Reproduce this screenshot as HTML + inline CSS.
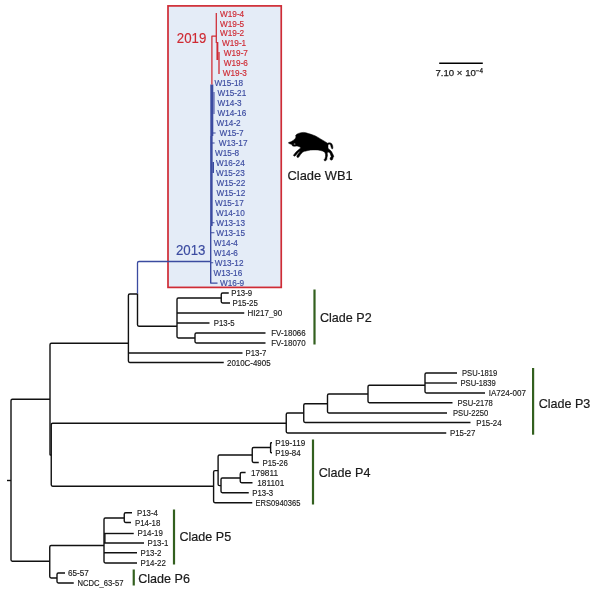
<!DOCTYPE html>
<html lang="en"><head><meta charset="utf-8"><title>Phylogenetic tree</title>
<style>
html,body{margin:0;padding:0;background:#fff;}
body{width:600px;height:602px;overflow:hidden;}
svg{display:block;}
svg text{font-family:"Liberation Sans",sans-serif;}
</style></head><body>
<svg width="600" height="602" viewBox="0 0 600 602">
<rect width="600" height="602" fill="#fff"/>
<rect x="168" y="5.9" width="113.25" height="281.5" fill="#e4ecf7" stroke="#cf2b35" stroke-width="1.7"/>
<g fill="none" stroke="#111" stroke-width="1.4" stroke-linejoin="round">
<path d="M7,480.5 L11,480.5"/>
<path d="M50,399.25 L12.40,399.25 Q11,399.25 11.00,400.65 L11.00,559.85 Q11,561.25 12.40,561.25 L49.75,561.25"/>
<path d="M128.4,343.25 L51.40,343.25 Q50,343.25 50.00,344.65 L50.00,454.38 Q50,455 50.62,455.00 L51.25,455"/>
<path d="M286.25,423.2 L52.65,423.20 Q51.25,423.2 51.25,424.60 L51.25,484.85 Q51.25,486.25 52.65,486.25 L213.6,486.25"/>
<path d="M137.5,294 L129.80,294.00 Q128.4,294 128.40,295.40 L128.40,361.10 Q128.4,362.5 129.80,362.50 L223.75,362.5"/>
<path d="M128.4,353 L242.5,353"/>
<path d="M137.5,293.5 L137.50,324.85 Q137.5,326.25 138.90,326.25 L177,326.25"/>
<path d="M221.25,298 L178.40,298.00 Q177,298 177.00,299.40 L177.00,336.60 Q177,338 178.40,338.00 L195,338"/>
<path d="M177,313 L244.25,313"/>
<path d="M177,323 L209.5,323"/>
<path d="M228.75,293 L222.65,293.00 Q221.25,293 221.25,294.40 L221.25,301.60 Q221.25,303 222.65,303.00 L230,303"/>
<path d="M265.5,333 L196.40,333.00 Q195,333 195.00,334.40 L195.00,341.60 Q195,343 196.40,343.00 L265.5,343"/>
<path d="M303.75,413 L287.65,413.00 Q286.25,413 286.25,414.40 L286.25,431.60 Q286.25,433 287.65,433.00 L446.25,433"/>
<path d="M327.5,403.75 L305.15,403.75 Q303.75,403.75 303.75,405.15 L303.75,421.10 Q303.75,422.5 305.15,422.50 L470.5,422.5"/>
<path d="M368,394 L328.90,394.00 Q327.5,394 327.50,395.40 L327.50,411.60 Q327.5,413 328.90,413.00 L447,413"/>
<path d="M425,385.25 L369.40,385.25 Q368,385.25 368.00,386.65 L368.00,401.35 Q368,402.75 369.40,402.75 L452.5,402.75"/>
<path d="M457,373 L426.40,373.00 Q425,373 425.00,374.40 L425.00,391.60 Q425,393 426.40,393.00 L485,393"/>
<path d="M425,383 L457,383"/>
<path d="M218.1,470.6 L215.00,470.60 Q213.6,470.6 213.60,472.00 L213.60,501.35 Q213.6,502.75 215.00,502.75 L252.25,502.75"/>
<path d="M252.25,455 L219.50,455.00 Q218.1,455 218.10,456.40 L218.10,484.20 Q218.1,485.6 219.50,485.60 L221,485.6"/>
<path d="M240.25,478 L222.40,478.00 Q221,478 221.00,479.40 L221.00,491.35 Q221,492.75 222.40,492.75 L248.75,492.75"/>
<path d="M245.6,472.5 L241.65,472.50 Q240.25,472.5 240.25,473.90 L240.25,481.35 Q240.25,482.75 241.65,482.75 L252.5,482.75"/>
<path d="M270.6,447.5 L253.65,447.50 Q252.25,447.5 252.25,448.90 L252.25,461.10 Q252.25,462.5 253.65,462.50 L258.75,462.5"/>
<path d="M272,442.75 L271.30,442.75 Q270.6,442.75 270.60,443.45 L270.60,452.05 Q270.6,452.75 271.30,452.75 L272,452.75"/>
<path d="M104,545.5 L51.15,545.50 Q49.75,545.5 49.75,546.90 L49.75,576.60 Q49.75,578 51.15,578.00 L57,578"/>
<path d="M65,573 L58.40,573.00 Q57,573 57.00,574.40 L57.00,581.60 Q57,583 58.40,583.00 L73.75,583"/>
<path d="M124.25,518 L105.40,518.00 Q104,518 104.00,519.40 L104.00,561.60 Q104,563 105.40,563.00 L137,563"/>
<path d="M104,533.5 L133.75,533.5"/>
<path d="M104,543 L144,543"/>
<path d="M104,552.75 L137,552.75"/>
<path d="M104.9,534 L104.9,543"/>
<path d="M132,512.75 L125.65,512.75 Q124.25,512.75 124.25,514.15 L124.25,521.10 Q124.25,522.5 125.65,522.50 L131,522.5"/>
</g>
<g fill="none" stroke="#3b4ba0" stroke-linejoin="round">
<path d="M210.6,261.5 H139 Q137.5,261.5 137.5,263 V293.6" stroke-width="1.3"/>
<path d="M211.8,84.5 V136" stroke-width="3"/>
<path d="M213.9,92 V114" stroke-width="1.6" stroke="#6c76b8"/>
<path d="M211.4,136 V226" stroke-width="2.5"/>
<path d="M213.2,162 V173" stroke-width="1.6"/>
<path d="M210.7,226 V283.1 H217.5" stroke-width="1.4"/>
<path d="M212,133 H215.6 M212,143 H214.6 M211,222.75 H214.4 M211,232.75 H214.4 M211,262.75 H213.2" stroke-width="1.2"/>
</g>
<g fill="none" stroke="#cf2a33" stroke-linejoin="round">
<path d="M211.9,84.6 V36 H216.25" stroke-width="1.25"/>
<path d="M216.3,13 V43" stroke-width="1.25"/>
<path d="M217.4,42 V60" stroke-width="1.9"/>
<path d="M219,52 V74" stroke-width="1.3"/>
</g>
<g stroke="#33601f" stroke-width="2.2">
<path d="M314.5,289.5 V344.5"/>
<path d="M533.1,368 V434.7"/>
<path d="M313,439.5 V504.5"/>
<path d="M174,509.5 V564.5"/>
<path d="M133.75,569.5 V585.5"/>
</g>
<g>
<text x="231.25" y="296.00" font-size="8.4" textLength="20.86" lengthAdjust="spacingAndGlyphs" fill="#1a1a1a" stroke="#1a1a1a" stroke-width="0.15">P13-9</text>
<text x="232.50" y="306.00" font-size="8.4" textLength="25.37" lengthAdjust="spacingAndGlyphs" fill="#1a1a1a" stroke="#1a1a1a" stroke-width="0.15">P15-25</text>
<text x="247.50" y="316.00" font-size="8.4" textLength="34.78" lengthAdjust="spacingAndGlyphs" fill="#1a1a1a" stroke="#1a1a1a" stroke-width="0.15">HI217_90</text>
<text x="213.75" y="326.00" font-size="8.4" textLength="20.86" lengthAdjust="spacingAndGlyphs" fill="#1a1a1a" stroke="#1a1a1a" stroke-width="0.15">P13-5</text>
<text x="271.25" y="336.00" font-size="8.4" textLength="34.42" lengthAdjust="spacingAndGlyphs" fill="#1a1a1a" stroke="#1a1a1a" stroke-width="0.15">FV-18066</text>
<text x="271.25" y="346.00" font-size="8.4" textLength="34.42" lengthAdjust="spacingAndGlyphs" fill="#1a1a1a" stroke="#1a1a1a" stroke-width="0.15">FV-18070</text>
<text x="245.50" y="356.00" font-size="8.4" textLength="20.86" lengthAdjust="spacingAndGlyphs" fill="#1a1a1a" stroke="#1a1a1a" stroke-width="0.15">P13-7</text>
<text x="227.00" y="365.50" font-size="8.4" textLength="43.57" lengthAdjust="spacingAndGlyphs" fill="#1a1a1a" stroke="#1a1a1a" stroke-width="0.15">2010C-4905</text>
<text x="462.00" y="376.00" font-size="8.4" textLength="35.17" lengthAdjust="spacingAndGlyphs" fill="#1a1a1a" stroke="#1a1a1a" stroke-width="0.15">PSU-1819</text>
<text x="460.50" y="386.00" font-size="8.4" textLength="35.17" lengthAdjust="spacingAndGlyphs" fill="#1a1a1a" stroke="#1a1a1a" stroke-width="0.15">PSU-1839</text>
<text x="488.75" y="396.00" font-size="8.4" textLength="37.19" lengthAdjust="spacingAndGlyphs" fill="#1a1a1a" stroke="#1a1a1a" stroke-width="0.15">IA724-007</text>
<text x="457.50" y="406.00" font-size="8.4" textLength="35.17" lengthAdjust="spacingAndGlyphs" fill="#1a1a1a" stroke="#1a1a1a" stroke-width="0.15">PSU-2178</text>
<text x="453.00" y="416.00" font-size="8.4" textLength="35.17" lengthAdjust="spacingAndGlyphs" fill="#1a1a1a" stroke="#1a1a1a" stroke-width="0.15">PSU-2250</text>
<text x="476.25" y="425.70" font-size="8.4" textLength="25.37" lengthAdjust="spacingAndGlyphs" fill="#1a1a1a" stroke="#1a1a1a" stroke-width="0.15">P15-24</text>
<text x="450.00" y="436.00" font-size="8.4" textLength="25.37" lengthAdjust="spacingAndGlyphs" fill="#1a1a1a" stroke="#1a1a1a" stroke-width="0.15">P15-27</text>
<text x="275.25" y="446.00" font-size="8.4" textLength="29.89" lengthAdjust="spacingAndGlyphs" fill="#1a1a1a" stroke="#1a1a1a" stroke-width="0.15">P19-119</text>
<text x="275.25" y="456.00" font-size="8.4" textLength="25.37" lengthAdjust="spacingAndGlyphs" fill="#1a1a1a" stroke="#1a1a1a" stroke-width="0.15">P19-84</text>
<text x="262.50" y="465.60" font-size="8.4" textLength="25.37" lengthAdjust="spacingAndGlyphs" fill="#1a1a1a" stroke="#1a1a1a" stroke-width="0.15">P15-26</text>
<text x="251.00" y="475.70" font-size="8.4" textLength="27.07" lengthAdjust="spacingAndGlyphs" fill="#1a1a1a" stroke="#1a1a1a" stroke-width="0.15">179811</text>
<text x="257.25" y="485.70" font-size="8.4" textLength="27.07" lengthAdjust="spacingAndGlyphs" fill="#1a1a1a" stroke="#1a1a1a" stroke-width="0.15">181101</text>
<text x="252.25" y="495.70" font-size="8.4" textLength="20.86" lengthAdjust="spacingAndGlyphs" fill="#1a1a1a" stroke="#1a1a1a" stroke-width="0.15">P13-3</text>
<text x="255.50" y="505.70" font-size="8.4" textLength="44.85" lengthAdjust="spacingAndGlyphs" fill="#1a1a1a" stroke="#1a1a1a" stroke-width="0.15">ERS0940365</text>
<text x="137.00" y="515.60" font-size="8.4" textLength="20.86" lengthAdjust="spacingAndGlyphs" fill="#1a1a1a" stroke="#1a1a1a" stroke-width="0.15">P13-4</text>
<text x="135.00" y="525.60" font-size="8.4" textLength="25.37" lengthAdjust="spacingAndGlyphs" fill="#1a1a1a" stroke="#1a1a1a" stroke-width="0.15">P14-18</text>
<text x="137.50" y="535.80" font-size="8.4" textLength="25.37" lengthAdjust="spacingAndGlyphs" fill="#1a1a1a" stroke="#1a1a1a" stroke-width="0.15">P14-19</text>
<text x="147.50" y="546.00" font-size="8.4" textLength="20.86" lengthAdjust="spacingAndGlyphs" fill="#1a1a1a" stroke="#1a1a1a" stroke-width="0.15">P13-1</text>
<text x="140.50" y="556.00" font-size="8.4" textLength="20.86" lengthAdjust="spacingAndGlyphs" fill="#1a1a1a" stroke="#1a1a1a" stroke-width="0.15">P13-2</text>
<text x="140.50" y="566.00" font-size="8.4" textLength="25.37" lengthAdjust="spacingAndGlyphs" fill="#1a1a1a" stroke="#1a1a1a" stroke-width="0.15">P14-22</text>
<text x="68.00" y="576.00" font-size="8.4" textLength="20.77" lengthAdjust="spacingAndGlyphs" fill="#1a1a1a" stroke="#1a1a1a" stroke-width="0.15">65-57</text>
<text x="77.50" y="586.00" font-size="8.4" textLength="45.92" lengthAdjust="spacingAndGlyphs" fill="#1a1a1a" stroke="#1a1a1a" stroke-width="0.15">NCDC_63-57</text>
<text x="220.00" y="16.50" font-size="8.4" textLength="24.18" lengthAdjust="spacingAndGlyphs" fill="#cf2a33" stroke="#cf2a33" stroke-width="0.15">W19-4</text>
<text x="220.00" y="26.50" font-size="8.4" textLength="24.18" lengthAdjust="spacingAndGlyphs" fill="#cf2a33" stroke="#cf2a33" stroke-width="0.15">W19-5</text>
<text x="220.00" y="36.20" font-size="8.4" textLength="24.18" lengthAdjust="spacingAndGlyphs" fill="#cf2a33" stroke="#cf2a33" stroke-width="0.15">W19-2</text>
<text x="222.00" y="46.00" font-size="8.4" textLength="24.18" lengthAdjust="spacingAndGlyphs" fill="#cf2a33" stroke="#cf2a33" stroke-width="0.15">W19-1</text>
<text x="223.75" y="56.00" font-size="8.4" textLength="24.18" lengthAdjust="spacingAndGlyphs" fill="#cf2a33" stroke="#cf2a33" stroke-width="0.15">W19-7</text>
<text x="223.75" y="65.90" font-size="8.4" textLength="24.18" lengthAdjust="spacingAndGlyphs" fill="#cf2a33" stroke="#cf2a33" stroke-width="0.15">W19-6</text>
<text x="222.75" y="76.00" font-size="8.4" textLength="24.18" lengthAdjust="spacingAndGlyphs" fill="#cf2a33" stroke="#cf2a33" stroke-width="0.15">W19-3</text>
<text x="214.40" y="86.10" font-size="8.4" textLength="28.69" lengthAdjust="spacingAndGlyphs" fill="#3b4ba0" stroke="#3b4ba0" stroke-width="0.15">W15-18</text>
<text x="217.50" y="96.10" font-size="8.4" textLength="28.69" lengthAdjust="spacingAndGlyphs" fill="#3b4ba0" stroke="#3b4ba0" stroke-width="0.15">W15-21</text>
<text x="217.50" y="106.10" font-size="8.4" textLength="24.18" lengthAdjust="spacingAndGlyphs" fill="#3b4ba0" stroke="#3b4ba0" stroke-width="0.15">W14-3</text>
<text x="217.50" y="116.10" font-size="8.4" textLength="28.69" lengthAdjust="spacingAndGlyphs" fill="#3b4ba0" stroke="#3b4ba0" stroke-width="0.15">W14-16</text>
<text x="216.50" y="126.10" font-size="8.4" textLength="24.18" lengthAdjust="spacingAndGlyphs" fill="#3b4ba0" stroke="#3b4ba0" stroke-width="0.15">W14-2</text>
<text x="219.40" y="135.90" font-size="8.4" textLength="24.18" lengthAdjust="spacingAndGlyphs" fill="#3b4ba0" stroke="#3b4ba0" stroke-width="0.15">W15-7</text>
<text x="218.75" y="145.70" font-size="8.4" textLength="28.69" lengthAdjust="spacingAndGlyphs" fill="#3b4ba0" stroke="#3b4ba0" stroke-width="0.15">W13-17</text>
<text x="215.00" y="155.60" font-size="8.4" textLength="24.18" lengthAdjust="spacingAndGlyphs" fill="#3b4ba0" stroke="#3b4ba0" stroke-width="0.15">W15-8</text>
<text x="216.00" y="166.00" font-size="8.4" textLength="28.69" lengthAdjust="spacingAndGlyphs" fill="#3b4ba0" stroke="#3b4ba0" stroke-width="0.15">W16-24</text>
<text x="216.00" y="176.00" font-size="8.4" textLength="28.69" lengthAdjust="spacingAndGlyphs" fill="#3b4ba0" stroke="#3b4ba0" stroke-width="0.15">W15-23</text>
<text x="216.50" y="186.00" font-size="8.4" textLength="28.69" lengthAdjust="spacingAndGlyphs" fill="#3b4ba0" stroke="#3b4ba0" stroke-width="0.15">W15-22</text>
<text x="216.50" y="195.90" font-size="8.4" textLength="28.69" lengthAdjust="spacingAndGlyphs" fill="#3b4ba0" stroke="#3b4ba0" stroke-width="0.15">W15-12</text>
<text x="215.00" y="205.90" font-size="8.4" textLength="28.69" lengthAdjust="spacingAndGlyphs" fill="#3b4ba0" stroke="#3b4ba0" stroke-width="0.15">W15-17</text>
<text x="216.00" y="215.70" font-size="8.4" textLength="28.69" lengthAdjust="spacingAndGlyphs" fill="#3b4ba0" stroke="#3b4ba0" stroke-width="0.15">W14-10</text>
<text x="216.25" y="225.75" font-size="8.4" textLength="28.69" lengthAdjust="spacingAndGlyphs" fill="#3b4ba0" stroke="#3b4ba0" stroke-width="0.15">W13-13</text>
<text x="216.25" y="235.75" font-size="8.4" textLength="28.69" lengthAdjust="spacingAndGlyphs" fill="#3b4ba0" stroke="#3b4ba0" stroke-width="0.15">W13-15</text>
<text x="213.75" y="246.10" font-size="8.4" textLength="24.18" lengthAdjust="spacingAndGlyphs" fill="#3b4ba0" stroke="#3b4ba0" stroke-width="0.15">W14-4</text>
<text x="213.75" y="256.10" font-size="8.4" textLength="24.18" lengthAdjust="spacingAndGlyphs" fill="#3b4ba0" stroke="#3b4ba0" stroke-width="0.15">W14-6</text>
<text x="214.75" y="265.75" font-size="8.4" textLength="28.69" lengthAdjust="spacingAndGlyphs" fill="#3b4ba0" stroke="#3b4ba0" stroke-width="0.15">W13-12</text>
<text x="213.50" y="275.75" font-size="8.4" textLength="28.69" lengthAdjust="spacingAndGlyphs" fill="#3b4ba0" stroke="#3b4ba0" stroke-width="0.15">W13-16</text>
<text x="220.00" y="285.50" font-size="8.4" textLength="24.18" lengthAdjust="spacingAndGlyphs" fill="#3b4ba0" stroke="#3b4ba0" stroke-width="0.15">W16-9</text>
<text x="287.50" y="179.80" font-size="13.2" textLength="65.14" lengthAdjust="spacingAndGlyphs" fill="#1a1a1a" stroke="#1a1a1a" stroke-width="0.2">Clade WB1</text>
<text x="320.00" y="322.40" font-size="13.2" textLength="51.66" lengthAdjust="spacingAndGlyphs" fill="#1a1a1a" stroke="#1a1a1a" stroke-width="0.2">Clade P2</text>
<text x="538.70" y="407.70" font-size="13.2" textLength="51.66" lengthAdjust="spacingAndGlyphs" fill="#1a1a1a" stroke="#1a1a1a" stroke-width="0.2">Clade P3</text>
<text x="318.75" y="477.00" font-size="13.2" textLength="51.66" lengthAdjust="spacingAndGlyphs" fill="#1a1a1a" stroke="#1a1a1a" stroke-width="0.2">Clade P4</text>
<text x="179.50" y="541.20" font-size="13.2" textLength="51.66" lengthAdjust="spacingAndGlyphs" fill="#1a1a1a" stroke="#1a1a1a" stroke-width="0.2">Clade P5</text>
<text x="138.25" y="583.10" font-size="13.2" textLength="51.66" lengthAdjust="spacingAndGlyphs" fill="#1a1a1a" stroke="#1a1a1a" stroke-width="0.2">Clade P6</text>
<text x="176.80" y="42.60" font-size="13.8" textLength="29.50" lengthAdjust="spacingAndGlyphs" fill="#cf2a33" stroke="#cf2a33" stroke-width="0.15">2019</text>
<text x="175.90" y="254.50" font-size="13.8" textLength="29.50" lengthAdjust="spacingAndGlyphs" fill="#3b4ba0" stroke="#3b4ba0" stroke-width="0.15">2013</text>
</g>
<path d="M439.2,63.2 H482.8" stroke="#000" stroke-width="1.6"/>
<text x="435.5" y="76.4" font-size="9.8" fill="#1a1a1a" stroke="#1a1a1a" stroke-width="0.25" textLength="47.5" lengthAdjust="spacingAndGlyphs">7.10 × 10<tspan font-size="6.4" dy="-3.2">−4</tspan></text>
<polygon points="288.6,142.5 291,141.75 293.5,140.25 295.25,138.5 296,137 295.6,135.6 296.75,134.25 298.5,133.4 301,132.7 303.5,132.4 306,132.8 308.5,133.6 311,134.3 313.5,135.2 315.5,136 318,137.4 320.5,138.9 323,140.4 325.5,141.9 327.5,143.2 329,142.8 330.5,142.9 331.75,143.7 332.6,145.5 332.9,147.5 332.6,148.9 331.7,148.6 331.2,147.25 330.7,145.5 330.2,144.4 329.25,144.1 328.3,144.4 328,145.5 328,148 328.5,149 330,150 331.5,151.5 332.5,153.5 333.5,155.5 333.8,156.75 333,157.5 332.75,159 332,160.1 330.75,160.1 330,159 330.25,157.75 331.2,156.75 330.7,155 330,153.25 329,152.25 327.75,151.75 327.25,153.5 327.5,155.5 327,157.5 326.75,159.5 325.75,160.8 324.5,160.8 324,159.75 325,158.5 325.5,156.5 325.5,154.5 325,152.75 324,151.75 322.5,151 320.5,150.5 318,150 315.5,149.9 313,149.9 310.5,150.1 308,150.5 305,151.25 304.5,151.2 302.5,152.2 300.5,154.6 298.6,157.3 297.25,157.4 296.7,156 298.5,153.5 300.3,151.2 298.6,152.1 296,155 294.75,156.3 293.4,155.5 294,154.4 296,152 298.5,149.75 301,147.75 299,146.6 297,145.9 294.5,146.3 292.5,146 292,144.6 290.5,144.1 288.7,143.3" fill="#000" stroke="#000" stroke-width="0.5" stroke-linejoin="round"/>
<ellipse cx="294.6" cy="144" rx="1.1" ry="0.45" fill="#fff" opacity="0.85"/>
</svg>
</body></html>
